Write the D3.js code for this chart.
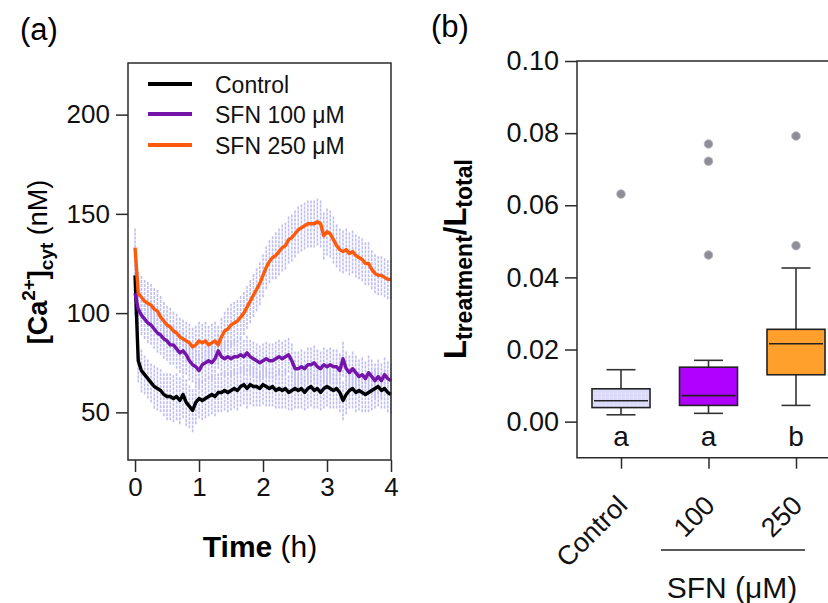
<!DOCTYPE html>
<html>
<head>
<meta charset="utf-8">
<script src="https://cdn.jsdelivr.net/npm/d3@7"></script>
<style>
  body { margin: 0; background: #fff; }
  svg { font-family: Arial, "Liberation Sans", sans-serif; }
</style>
</head>
<body>
<svg id="fig" width="828" height="603"></svg>
<script>
// ---- panel (a) data: time course ----
var times = [
  0,0.05,0.1,0.15,0.2,0.25,0.3,0.35,0.4,0.45,
  0.5,0.55,0.6,0.65,0.7,0.75,0.8,0.85,0.9,0.95,
  1,1.05,1.1,1.15,1.2,1.25,1.3,1.35,1.4,1.45,
  1.5,1.55,1.6,1.65,1.7,1.75,1.8,1.85,1.9,1.95,
  2,2.05,2.1,2.15,2.2,2.25,2.3,2.35,2.4,2.45,
  2.5,2.55,2.6,2.65,2.7,2.75,2.8,2.85,2.9,2.95,
  3,3.05,3.1,3.15,3.2,3.25,3.3,3.35,3.4,3.45,
  3.5,3.55,3.6,3.65,3.7,3.75,3.8,3.85,3.9,3.95,
  4];
var controlCa = [
  119,76,71,69,67,65,63,62,61,59,
  58,58,57,58,56,59,55,53,51,55,
  57,56,57,58,59,58,60,60,61,60,
  61,62,61,63,64,62,64,63,63,62,
  64,63,62,63,61,62,61,62,60,61,
  62,61,62,60,62,63,61,62,60,62,
  63,62,61,62,60,56,59,61,62,60,
  61,60,59,60,61,62,63,61,62,60,
  59];
var sfn100Ca = [
  110,102,99,97,95,94,92,90,89,87,
  86,84,84,82,80,81,79,76,74,73,
  71,74,75,76,75,77,81,78,77,78,
  77,78,78,79,78,80,78,77,76,75,
  76,77,76,76,77,78,77,78,79,76,
  72,72,73,72,74,74,75,73,72,74,
  73,74,73,73,71,77,72,70,72,70,
  68,69,67,70,68,66,68,66,69,67,
  66];
var sfn250Ca = [
  133,110,108,106,105,104,102,101,98,96,
  94,93,91,90,88,87,86,85,83,84,
  86,85,86,84,85,86,84,88,91,92,
  94,95,96,98,100,103,106,109,112,115,
  119,123,126,128,129,131,133,134,137,138,
  140,142,143,144,145,145,145,146,145,139,
  141,140,137,134,132,131,132,130,131,129,
  128,127,125,125,122,120,119,119,118,117,
  117];
var controlErr = [
  12,11,11,10,10,10,11,11,11,11,
  12,12,12,12,12,12,12,11,11,11,
  10,10,10,10,10,10,10,10,10,10,
  10,10,10,10,10,10,10,10,10,9,
  10,10,9,10,9,10,9,10,9,10,
  10,9,10,9,10,10,9,10,9,10,
  10,10,9,10,10,10,10,9,10,10,
  10,10,9,10,10,10,10,9,10,10,
  10];
var sfn100Err = [
  11,10,10,10,10,10,10,10,10,10,
  10,10,10,10,10,10,10,10,9,9,
  9,9,9,9,9,9,9,9,9,9,
  9,9,9,9,9,9,9,9,9,9,
  9,9,9,9,9,9,9,9,9,9,
  9,9,9,9,9,9,9,9,9,9,
  9,9,9,9,9,9,9,9,9,9,
  9,9,9,9,9,9,9,9,9,9,
  9];
var sfn250Err = [
  10,11,11,11,11,11,11,11,11,10,
  10,10,10,10,10,10,10,10,10,10,
  10,10,10,10,10,10,10,10,10,11,
  11,11,11,11,11,11,11,11,11,11,
  11,11,11,11,12,12,12,12,12,12,
  12,12,12,12,12,12,12,12,12,12,
  12,12,12,11,11,11,11,11,11,11,
  11,11,11,11,10,10,10,10,10,10,
  10];
var seriesNames = ["Control", "SFN 100 \u03bcM", "SFN 250 \u03bcM"];
var xTicksA = [0, 1, 2, 3, 4];
var yTicksA = [50, 100, 150, 200];

// ---- panel (b) data: box plot summary ----
var boxGroups = ["Control", "100", "250"];
var boxQ1 = [0.0039, 0.0045, 0.0130];
var boxMedian = [0.0058, 0.0072, 0.0216];
var boxQ3 = [0.0091, 0.0151, 0.0256];
var whiskerLow = [0.0019, 0.0023, 0.0045];
var whiskerHigh = [0.0144, 0.0170, 0.0426];
var outliers = [[0.0631], [0.0770, 0.0722, 0.0462], [0.0792, 0.0488]];
var sigLetters = ["a", "a", "b"];
var yTicksB = [0, 0.02, 0.04, 0.06, 0.08, 0.10];

var svg = d3.select("#fig");
var axisColor = "#2a2a2a";

// patterns for the box fills
var defs = svg.append("defs");
var pat = defs.append("pattern").attr("id", "dotsCtrl")
    .attr("width", 4).attr("height", 4).attr("patternUnits", "userSpaceOnUse");
pat.append("rect").attr("width", 4).attr("height", 4).attr("fill", "#dcdcfa");
pat.append("rect").attr("x", 1).attr("y", 1).attr("width", 1).attr("height", 1).attr("fill", "#f4f4ff");

/* ================= panel (a) ================= */
var xA = d3.scaleLinear().domain([-0.11, 4]).range([128, 391]);
var yA = d3.scaleLinear().domain([26, 226]).range([460, 63]);

var gA = svg.append("g");

// error bars first, behind lines
var allSeries = [
  {vals: controlCa, err: controlErr, color: "#000000"},
  {vals: sfn100Ca, err: sfn100Err, color: "#7414a8"},
  {vals: sfn250Ca, err: sfn250Err, color: "#ff5a0a"}
];
allSeries.forEach(function(s) {
    gA.append("g").selectAll("line")
        .data(times)
        .enter().append("line")
        .attr("x1", function(d) { return xA(d); })
        .attr("x2", function(d) { return xA(d); })
        .attr("y1", function(d, i) { return yA(s.vals[i] - s.err[i]); })
        .attr("y2", function(d, i) { return yA(s.vals[i] + s.err[i]); })
        .attr("stroke", "#bebef4")
        .attr("stroke-width", 1.6)
        .attr("stroke-dasharray", "3,1");
});

var line = d3.line()
    .x(function(d, i) { return xA(times[i]); })
    .y(function(d) { return yA(d); });

allSeries.forEach(function(s) {
    gA.append("path")
        .datum(s.vals)
        .attr("d", line)
        .attr("fill", "none")
        .attr("stroke", s.color)
        .attr("stroke-width", 3.4)
        .attr("stroke-linejoin", "round");
});

// frame
gA.append("rect")
    .attr("x", 128).attr("y", 63)
    .attr("width", 263).attr("height", 397)
    .attr("fill", "none").attr("stroke", axisColor).attr("stroke-width", 1.5);

// axes
var xAxisA = d3.axisBottom(xA).tickValues(xTicksA).tickSize(12).tickPadding(6)
    .tickFormat(d3.format("d"));
gA.append("g").attr("transform", "translate(0,460)").call(xAxisA)
    .call(function(g) { g.select(".domain").remove(); });
var yAxisA = d3.axisLeft(yA).tickValues(yTicksA).tickSize(12).tickPadding(6);
gA.append("g").attr("transform", "translate(128,0)").call(yAxisA)
    .call(function(g) { g.select(".domain").remove(); });
gA.selectAll(".tick line").attr("stroke", axisColor).attr("stroke-width", 1.5);
gA.selectAll(".tick text").attr("font-size", 26).attr("fill", "#111")
    .attr("font-family", "Arial, 'Liberation Sans', sans-serif");

// legend
var legendY = [84, 114, 145];
allSeries.forEach(function(s, i) {
    gA.append("line")
        .attr("x1", 148).attr("x2", 192)
        .attr("y1", legendY[i]).attr("y2", legendY[i])
        .attr("stroke", s.color).attr("stroke-width", 4);
    gA.append("text")
        .attr("x", 215).attr("y", legendY[i] + 8.5)
        .attr("font-size", 23).attr("fill", "#111")
        .text(seriesNames[i]);
});

// axis titles
var tA = gA.append("text")
    .attr("transform", "translate(260,557)")
    .attr("text-anchor", "middle").attr("font-size", 30).attr("fill", "#000");
tA.append("tspan").attr("font-weight", "bold").text("Time");
tA.append("tspan").text(" (h)");

var yl = gA.append("text")
    .attr("transform", "translate(47,262) rotate(-90)")
    .attr("text-anchor", "middle").attr("font-size", 27).attr("fill", "#000");
yl.append("tspan").attr("font-weight", "bold").text("[Ca");
yl.append("tspan").attr("font-weight", "bold").attr("font-size", 19).attr("dy", -12).text("2+");
yl.append("tspan").attr("font-weight", "bold").attr("dy", 12).text("]");
yl.append("tspan").attr("font-weight", "bold").attr("font-size", 19).attr("dy", 6).text("cyt");
yl.append("tspan").attr("dy", -6).text(" (nM)");

svg.append("text").attr("x", 20).attr("y", 40)
    .attr("font-size", 31).attr("fill", "#000").text("(a)");

/* ================= panel (b) ================= */
var xB = d3.scalePoint().domain(boxGroups).range([621, 796]);
var yB = d3.scaleLinear().domain([-0.01, 0.10]).range([457.7, 61]);
var gB = svg.append("g");
var boxFills = ["url(#dotsCtrl)", "#b000ff", "#ffa02c"];
var boxW = 58, capW = 29;

boxGroups.forEach(function(grp, i) {
    var cx = xB(grp);
    // whiskers
    gB.append("line").attr("x1", cx).attr("x2", cx)
        .attr("y1", yB(whiskerHigh[i])).attr("y2", yB(boxQ3[i]))
        .attr("stroke", "#333").attr("stroke-width", 1.6);
    gB.append("line").attr("x1", cx).attr("x2", cx)
        .attr("y1", yB(boxQ1[i])).attr("y2", yB(whiskerLow[i]))
        .attr("stroke", "#333").attr("stroke-width", 1.6);
    [whiskerHigh[i], whiskerLow[i]].forEach(function(v) {
        gB.append("line").attr("x1", cx - capW / 2).attr("x2", cx + capW / 2)
            .attr("y1", yB(v)).attr("y2", yB(v))
            .attr("stroke", "#333").attr("stroke-width", 1.6);
    });
    // box
    gB.append("rect")
        .attr("x", cx - boxW / 2).attr("y", yB(boxQ3[i]))
        .attr("width", boxW).attr("height", yB(boxQ1[i]) - yB(boxQ3[i]))
        .attr("fill", boxFills[i]).attr("stroke", "#222").attr("stroke-width", 1.6);
    gB.append("line")
        .attr("x1", cx - boxW / 2 + 2).attr("x2", cx + boxW / 2 - 2)
        .attr("y1", yB(boxMedian[i])).attr("y2", yB(boxMedian[i]))
        .attr("stroke", "#222").attr("stroke-width", 1.6);
    // outliers
    gB.selectAll(null).data(outliers[i]).enter().append("circle")
        .attr("cx", cx).attr("cy", function(d) { return yB(d); })
        .attr("r", 4.3).attr("fill", "#8e8e98").attr("stroke", "#b4b4be").attr("stroke-width", 0.8);
    // significance letter
    gB.append("text").attr("x", cx).attr("y", 446)
        .attr("text-anchor", "middle").attr("font-size", 28).attr("fill", "#111")
        .text(sigLetters[i]);
});

// frame lines (right side runs off the picture)
gB.append("path")
    .attr("d", "M840,61H577V457.7H840")
    .attr("fill", "none").attr("stroke", axisColor).attr("stroke-width", 1.5);

var yAxisB = d3.axisLeft(yB).tickValues(yTicksB).tickSize(12).tickPadding(6)
    .tickFormat(d3.format(".2f"));
gB.append("g").attr("transform", "translate(577,0)").call(yAxisB)
    .call(function(g) { g.select(".domain").remove(); });
var xAxisB = d3.axisBottom(xB).tickSize(11).tickFormat("");
gB.append("g").attr("transform", "translate(0,457.7)").call(xAxisB)
    .call(function(g) { g.select(".domain").remove(); });
gB.selectAll(".tick line").attr("stroke", axisColor).attr("stroke-width", 1.5);
gB.selectAll(".tick text").attr("font-size", 27).attr("fill", "#111")
    .attr("font-family", "Arial, 'Liberation Sans', sans-serif");

// rotated group labels
boxGroups.forEach(function(grp, i) {
    gB.append("text")
        .attr("transform", "translate(" + (xB(grp) + 8) + ",507) rotate(-45)")
        .attr("text-anchor", "end").attr("font-size", 27).attr("fill", "#111")
        .text(grp);
});

gB.append("line").attr("x1", 661).attr("x2", 805).attr("y1", 550).attr("y2", 550)
    .attr("stroke", "#222").attr("stroke-width", 1.5);
gB.append("text").attr("x", 732).attr("y", 598)
    .attr("text-anchor", "middle").attr("font-size", 30).attr("fill", "#111")
    .text("SFN (\u03bcM)");

var ylB = gB.append("text")
    .attr("transform", "translate(466,259) rotate(-90)")
    .attr("text-anchor", "middle").attr("font-size", 31).attr("font-weight", "bold").attr("fill", "#000");
ylB.append("tspan").text("L");
ylB.append("tspan").attr("font-size", 23).attr("dy", 6).text("treatment");
ylB.append("tspan").attr("dy", -6).text("/L");
ylB.append("tspan").attr("font-size", 23).attr("dy", 6).text("total");

svg.append("text").attr("x", 431).attr("y", 37)
    .attr("font-size", 31).attr("fill", "#000").text("(b)");
</script>
</body>
</html>
